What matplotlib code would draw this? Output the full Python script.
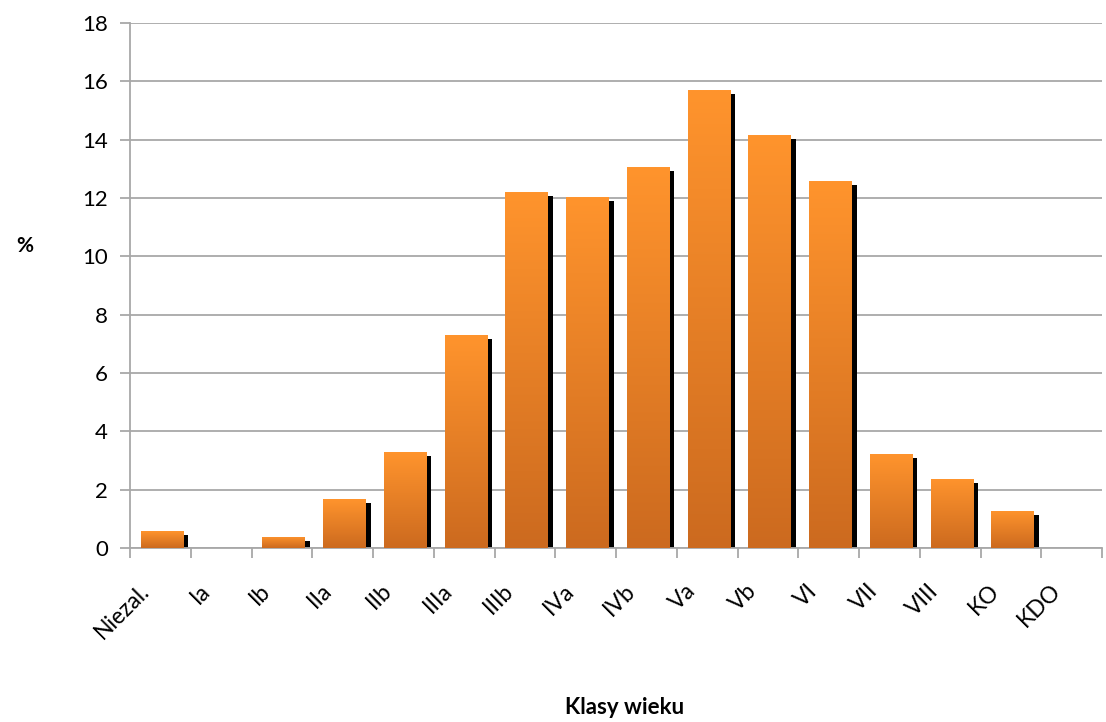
# rozkład powierzchni wg klas wieku - wykres słupkowy z cieniem
import matplotlib
matplotlib.use('Agg')
import matplotlib.pyplot as plt
import matplotlib.transforms as mtransforms
import numpy as np
from matplotlib.colors import LinearSegmentedColormap

klasy = ['Niezal.', 'Ia', 'Ib', 'IIa', 'IIb', 'IIIa', 'IIIb', 'IVa', 'IVb',
         'Va', 'Vb', 'VI', 'VII', 'VIII', 'KO', 'KDO']
procent = [0.58, 0.0, 0.38, 1.68, 3.29, 7.3, 12.2, 12.03, 13.06,
           15.7, 14.16, 12.58, 3.22, 2.37, 1.27, 0.0]

plt.rcParams['font.family'] = 'Lato'

fig = plt.figure(figsize=(11.06, 7.22), dpi=100)
ax = fig.add_axes([130/1106, 174/722, 972/1106, 525/722])

x = np.arange(len(klasy))
szer = 0.70
x0 = x - 0.32

# cien - czarny slupek przesuniety w prawo i w dol
ax.bar(x0 + 0.08, np.clip(np.array(procent) - 0.13, 0, None), width=szer,
       align='edge', color='black', zorder=2)

gradient = LinearSegmentedColormap.from_list('pom', ['#CC6A1F', '#FF942D'])
grad = np.linspace(0, 1, 256).reshape(-1, 1)
bary = ax.bar(x0, procent, width=szer, align='edge', color='none',
              edgecolor='none', zorder=3)
for b in bary:
    h = b.get_height()
    if h <= 0:
        continue
    im = ax.imshow(grad, cmap=gradient, aspect='auto', origin='lower',
                   extent=[b.get_x(), b.get_x() + b.get_width(), 0, h],
                   zorder=3)
    im.set_clip_path(b)

ax.set_xlim(-0.5, len(klasy) - 0.5)
ax.set_ylim(0, 18)
ax.set_yticks(np.arange(0, 19, 2))
ax.yaxis.grid(True, color='#A8A8A8', linewidth=1.3, zorder=0)
ax.set_axisbelow(True)

for s in ['top', 'right']:
    ax.spines[s].set_visible(False)
ax.spines['left'].set_color('#A8A8A8')
ax.spines['bottom'].set_color('#A8A8A8')
ax.spines['left'].set_linewidth(1.3)
ax.spines['bottom'].set_linewidth(1.3)

ax.tick_params(axis='y', length=7, width=1.3, color='#A8A8A8',
               labelsize=16, pad=9)
# kreski na granicach klas, podpisy na srodkach
ax.set_xticks(np.arange(len(klasy) + 1) - 0.5)
ax.set_xticklabels([])
ax.tick_params(axis='x', which='major', length=7, width=1.3, color='#A8A8A8')
ax.set_xticks(x, minor=True)
ax.set_xticklabels(klasy, minor=True, rotation=45, ha='right', va='top',
                   rotation_mode='anchor', fontsize=16.5)
ax.tick_params(axis='x', which='minor', length=0, pad=23)
przes = mtransforms.ScaledTranslation(-22/100, 0, fig.dpi_scale_trans)
for lab in ax.get_xticklabels(minor=True):
    lab.set_transform(lab.get_transform() + przes)

fig.text(25/1106, 1 - 246/722, '%', fontsize=15, fontweight='bold',
         ha='center', va='center')
fig.text(625/1106, 1 - 707/722, 'Klasy wieku', fontsize=16,
         fontweight='bold', ha='center', va='center')

fig.savefig('out.png', dpi=100)
